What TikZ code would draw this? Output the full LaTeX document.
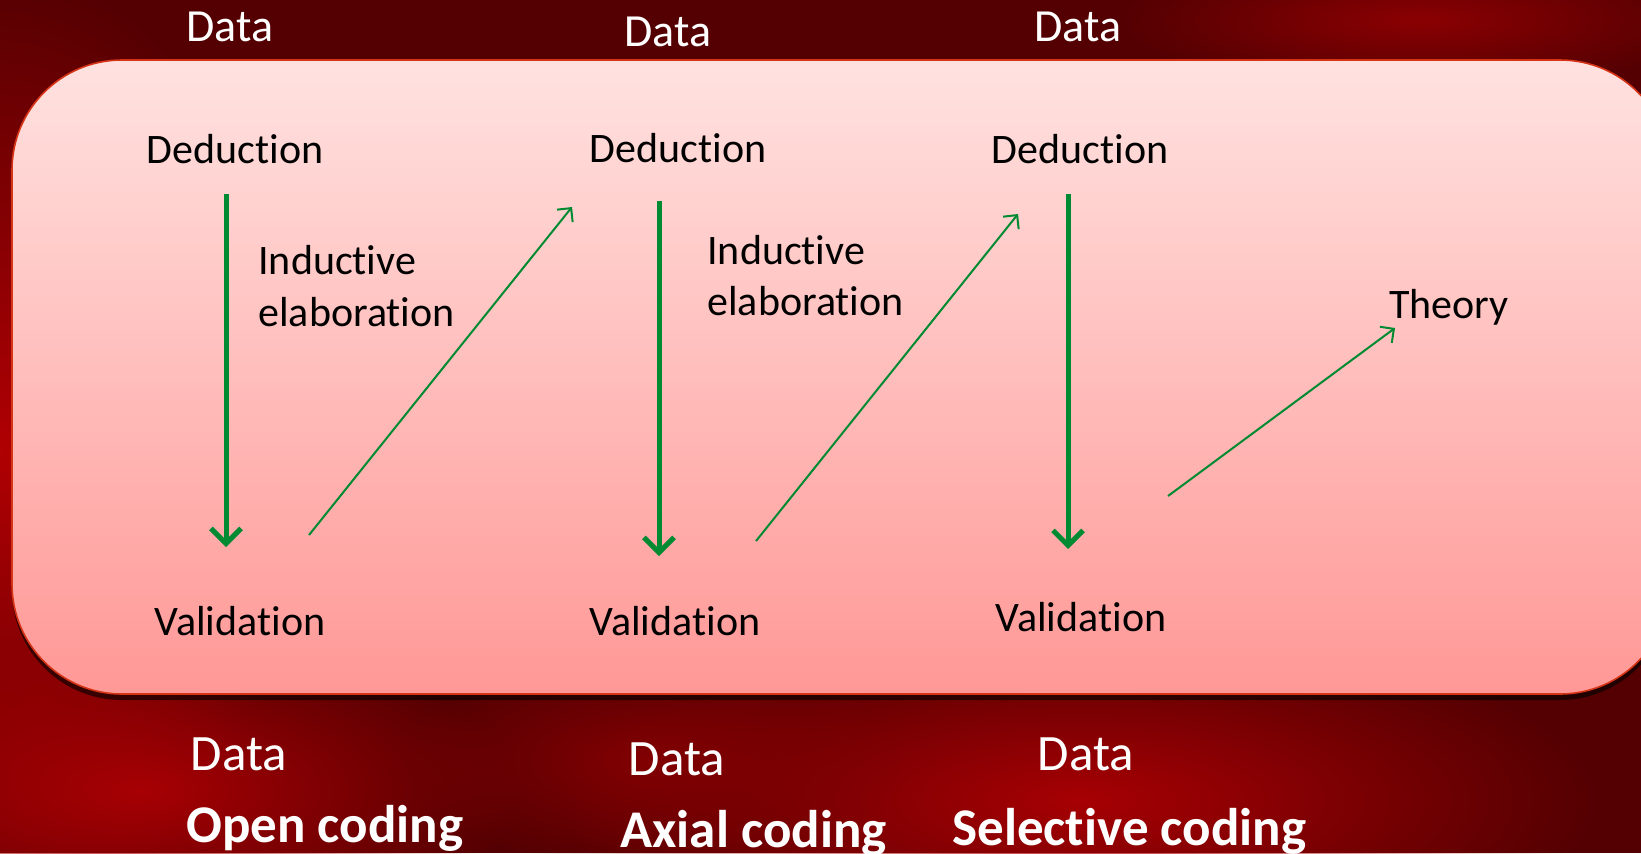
\documentclass[tikz,border=0pt]{standalone}
\usepackage{fontspec}
\setmainfont{Carlito}[Ligatures={NoCommon,NoRequired,NoContextual,NoRare}, Contextuals=NoAlternate]
\usetikzlibrary{arrows.meta,shadows,fadings}
\definecolor{bgdark}{RGB}{84,0,2}
\definecolor{bgred}{RGB}{176,0,4}
\definecolor{boxtop}{RGB}{255,226,224}
\definecolor{boxbot}{RGB}{255,152,150}
\definecolor{boxline}{RGB}{214,52,22}
\definecolor{arrowgreen}{RGB}{0,138,50}
\tikzfading[name=softglow, inner color=transparent!0, outer color=transparent!100]
% keeps "t" and "i" as separate glyphs
\newcommand\tsep{\kern0pt }

\begin{document}
\begin{tikzpicture}[x=0.5pt,y=-0.5pt,
  steplabel/.style={font=\fontsize{21}{26}\selectfont, inner sep=0pt, anchor=base, text=black},
  datatop/.style={font=\fontsize{23}{27}\selectfont, inner sep=0pt, anchor=base, text=white},
  databot/.style={font=\fontsize{25.5}{30}\selectfont, inner sep=0pt, anchor=base, text=white},
  phase/.style={font=\fontsize{26.5}{31}\selectfont\bfseries, inner sep=0pt, anchor=base west, text=white},
  downarrow/.style={draw=arrowgreen, line width=2.5pt, -{Straight Barb[length=7.5pt,width=15pt]}},
  uparrow/.style={draw=arrowgreen, line width=1pt, -{Straight Barb[length=5pt,width=10pt]}}]

\useasboundingbox (0,0) rectangle (1641,853);

% dark red backdrop with soft glows
\fill[bgdark] (0,0) rectangle (1641,853);
\fill[bgred, path fading=softglow] (0,450) ellipse [x radius=300, y radius=480];
\fill[bgred!90!bgdark, path fading=softglow] (1080,800) ellipse [x radius=520, y radius=170];
\fill[bgred!90!bgdark, path fading=softglow] (140,790) ellipse [x radius=380, y radius=160];
\fill[bgred!60!bgdark, path fading=softglow] (1420,20) ellipse [x radius=300, y radius=70];
\fill[bgred!50!bgdark, path fading=softglow] (650,760) ellipse [x radius=250, y radius=110];

% rounded panel
\path[drop shadow={shadow xshift=0pt, shadow yshift=-3pt, opacity=0.6, fill=black},
      top color=boxtop, bottom color=boxbot, draw=boxline, line width=0.8pt,
      rounded corners=55pt] (12,60) rectangle (1670,694);

% top data labels
\node[datatop] (dt1) at (230,41) {Data};
\node[datatop] (dt2) at (668,46) {Data};
\node[datatop] (dt3) at (1078,41) {Data};

% deduction / validation columns
\node[steplabel] (ded1) at (235,163) {Deduct\tsep ion};
\node[steplabel] (ded2) at (678,162) {Deduct\tsep ion};
\node[steplabel] (ded3) at (1080,163) {Deduct\tsep ion};
\node[steplabel] (val1) at (240,635) {Validat\tsep ion};
\node[steplabel] (val2) at (675,635) {Validat\tsep ion};
\node[steplabel] (val3) at (1081,631) {Validat\tsep ion};

% inductive elaboration labels
\node[steplabel, anchor=base west] (ind1a) at (258,274) {Induct\tsep ive};
\node[steplabel, anchor=base west] (ind1b) at (258,326) {elaborat\tsep ion};
\node[steplabel, anchor=base west] (ind2a) at (707,264) {Induct\tsep ive};
\node[steplabel, anchor=base west] (ind2b) at (707,315) {elaborat\tsep ion};

\node[steplabel, anchor=base west] (theory) at (1389,318) {Theory};

% bottom data and coding phases
\node[databot] (db1) at (239,770) {Data};
\node[databot] (db2) at (677,775) {Data};
\node[databot] (db3) at (1086,770) {Data};
\node[phase] (open) at (186,842) {Open coding};
\node[phase] (axial) at (620,847) {Axial coding};
\node[phase] (sel) at (952,845) {Select\tsep ive coding};

% arrow end points
\coordinate (a1s) at (226,194);  \coordinate (a1e) at (226,547);
\coordinate (a2s) at (659,201);  \coordinate (a2e) at (659,556);
\coordinate (a3s) at (1068,194); \coordinate (a3e) at (1068,549);
\coordinate (u1s) at (309,535);  \coordinate (u1e) at (572,207);
\coordinate (u2s) at (756,541);  \coordinate (u2e) at (1018,214);
\coordinate (u3s) at (1168,496); \coordinate (u3e) at (1395,328);

\draw[downarrow] (a1s) -- (a1e);
\draw[downarrow] (a2s) -- (a2e);
\draw[downarrow] (a3s) -- (a3e);
\draw[uparrow] (u1s) -- (u1e);
\draw[uparrow] (u2s) -- (u2e);
\draw[uparrow] (u3s) -- (u3e);
\end{tikzpicture}
\end{document}
